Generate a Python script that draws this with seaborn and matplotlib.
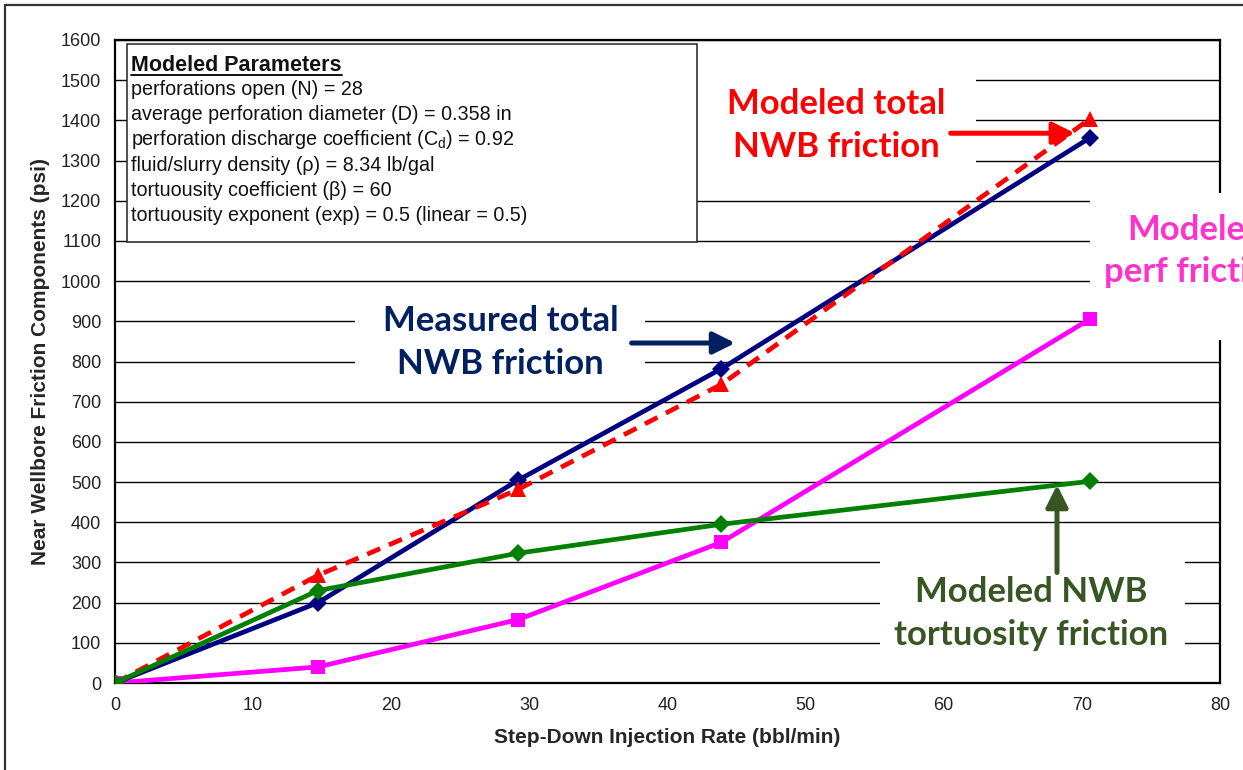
import matplotlib
matplotlib.use("Agg")
import matplotlib.pyplot as plt
from matplotlib.patches import Rectangle
from matplotlib.lines import Line2D
import seaborn as sns
import pandas as pd

# Step-down test: injection rate and near-wellbore friction components
rate = [0.0, 14.7, 29.2, 43.9, 70.6]
measured_total = [0, 200, 505, 782, 1357]
modeled_total = [0, 268, 482, 743, 1404]
tortuosity = [0, 230, 323, 395, 502]
perf_friction = [0, 40, 158, 350, 906]

x_ticks = list(range(0, 81, 10))
y_ticks = list(range(0, 1601, 100))

params_title = "Modeled Parameters"
params_lines = [
    "perforations open (N) = 28",
    "average perforation diameter (D) = 0.358 in",
    "perforation discharge coefficient (C$_\\mathregular{d}$) = 0.92",
    "fluid/slurry density (\u03c1) = 8.34 lb/gal",
    "tortuousity coefficient (\u03b2) = 60",
    "tortuousity exponent (exp) = 0.5 (linear = 0.5)",
]

sns.set_style("white")
plt.rcParams["font.family"] = ["Liberation Sans", "DejaVu Sans"]
plt.rcParams["mathtext.fontset"] = "custom"
plt.rcParams["mathtext.rm"] = "Liberation Sans"

W, H = 1243, 770
fig = plt.figure(figsize=(W / 100, H / 100), dpi=100)
fig.patch.set_facecolor("white")


def px(x, y):
    """pixel position (from top-left) -> figure fraction"""
    return x / W, 1 - y / H


ax = fig.add_axes([115 / W, 1 - 683 / H, (1220 - 115) / W, (683 - 40) / H])

df = pd.DataFrame({
    "rate": rate,
    "measured": measured_total,
    "modeled": modeled_total,
    "tort": tortuosity,
    "perf": perf_friction,
})

sns.lineplot(data=df, x="rate", y="perf", ax=ax, color="#FF00FF", lw=3.4,
             marker="s", markersize=9.5, markeredgewidth=0, zorder=4)
sns.lineplot(data=df, x="rate", y="measured", ax=ax, color="#000080", lw=3.4,
             marker="D", markersize=9, markeredgewidth=0, zorder=4)
sns.lineplot(data=df, x="rate", y="modeled", ax=ax, color="#FF0000", lw=3.4,
             linestyle=(0, (3, 2)), marker="^", markersize=11,
             markeredgewidth=0, zorder=4)
sns.lineplot(data=df, x="rate", y="tort", ax=ax, color="#008000", lw=3.4,
             marker="D", markersize=9, markeredgewidth=0, zorder=4)

ax.set_xlim(0, 80)
ax.set_ylim(0, 1600)
ax.set_xticks(x_ticks)
ax.set_yticks(y_ticks)
ax.tick_params(axis="both", direction="out", length=6, width=1.2,
               labelsize=13, colors="black", labelcolor="#222222", pad=4)
ax.set_axisbelow(True)
ax.yaxis.grid(True, color="black", lw=1.0)
ax.xaxis.grid(False)
for s in ax.spines.values():
    s.set_color("black")
    s.set_linewidth(1.6)

ax.set_xlabel("Step-Down Injection Rate (bbl/min)", fontsize=15,
              fontweight="bold", labelpad=10)
ax.set_ylabel("Near Wellbore Friction Components (psi)", fontsize=15,
              fontweight="bold", labelpad=8)

# white panels behind the callout labels
callout_panels = [
    (42.1, 1276, 20.2, 250),   # modeled total
    (17.4, 741, 21.0, 237),    # measured total
    (70.6, 853, 15.0, 366),    # perf friction
    (55.4, 45, 22.1, 273),     # tortuosity
]
for x0, y0, w, h in callout_panels:
    ax.add_patch(Rectangle((x0, y0), w, h, facecolor="white",
                           edgecolor="none", zorder=2.7, clip_on=False))

label_font = dict(family=["Lato", "DejaVu Sans"], fontweight="bold",
                  fontsize=25, ha="center", va="center", linespacing=1.42,
                  zorder=5, clip_on=False)
ax.text(52.2, 1388, "Modeled total\nNWB friction", color="#FF0000", **label_font)
ax.text(27.9, 848, "Measured total\nNWB friction", color="#002060", **label_font)
ax.text(78.3, 1075, "Modeled\nperf friction", color="#FF33CC", **label_font)
ax.text(66.3, 172, "Modeled NWB\ntortuosity friction", color="#375623", **label_font)

arrow = dict(arrowstyle="-|>,head_length=0.6,head_width=0.3", lw=3.6,
             mutation_scale=22, shrinkA=0, shrinkB=0)
ax.annotate("", xy=(69.5, 1368), xytext=(60.5, 1368),
            arrowprops=dict(color="#FF0000", **arrow), zorder=6)
ax.annotate("", xy=(44.9, 846), xytext=(37.4, 846),
            arrowprops=dict(color="#002060", **arrow), zorder=6)
ax.annotate("", xy=(68.2, 493), xytext=(68.2, 275),
            arrowprops=dict(color="#375623", **arrow), zorder=6)

# parameter box
bx0, by0 = px(127, 242)
bx1, by1 = px(697, 44)
fig.add_artist(Rectangle((bx0, by0), bx1 - bx0, by1 - by0,
                         transform=fig.transFigure, facecolor="white",
                         edgecolor="#333333", lw=1.2, zorder=5))
tx, ty = px(131, 71)
title = fig.text(tx, ty, params_title, fontsize=15.5, fontweight="bold",
                 va="baseline", ha="left", color="#111111", zorder=6)
for i, line in enumerate(params_lines):
    lx, ly = px(131, 95 + i * 25.2)
    fig.text(lx, ly, line, fontsize=14.2, va="baseline", ha="left",
             color="#111111", zorder=6)

fig.canvas.draw()
bb = title.get_window_extent().transformed(fig.transFigure.inverted())
uy = ty - 3.5 / H
fig.add_artist(Line2D([bb.x0, bb.x1], [uy, uy], transform=fig.transFigure,
                      color="#111111", lw=1.4, zorder=6))

# outer chart frame
fig.add_artist(Line2D([px(5, 0)[0], px(5, 0)[0]], [0, px(0, 5)[1]],
                      transform=fig.transFigure, color="#333333", lw=1.6))
fig.add_artist(Line2D([px(5, 0)[0], 1], [px(0, 5)[1], px(0, 5)[1]],
                      transform=fig.transFigure, color="#333333", lw=1.6))

fig.savefig("out.png", dpi=100)
